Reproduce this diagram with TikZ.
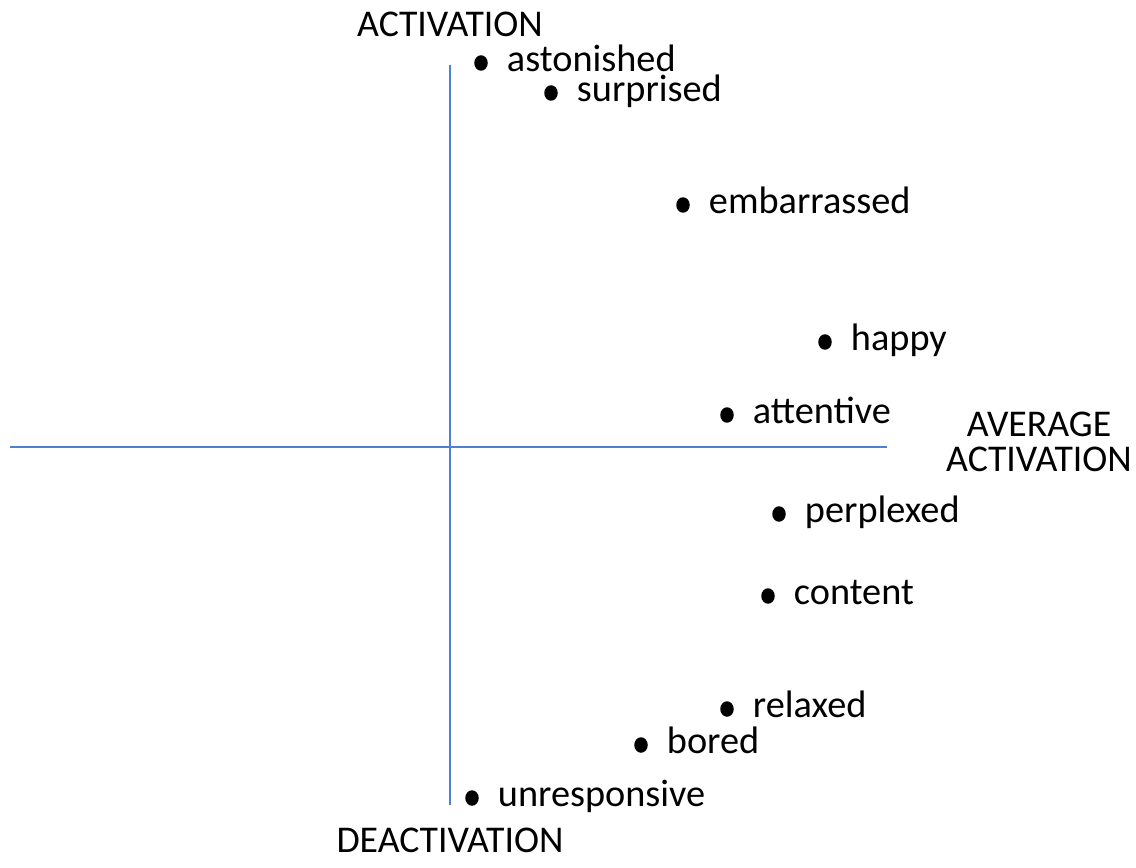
\documentclass[tikz,border=0pt]{standalone}
\usepackage{fontspec}
\setmainfont{Carlito}
\usepackage{xcolor}
\usepackage{tikz}
\usetikzlibrary{shapes,positioning}
\definecolor{axisblue}{RGB}{79,129,210}
\tikzstyle{dot} = [ellipse, fill=black, minimum width=0.27cm, minimum height=0.31cm, inner sep=0pt]
\tikzstyle{word} = [inner sep=0pt, text height=0.34cm, text depth=0pt, font=\fontsize{21.8pt}{24pt}\selectfont]
\tikzstyle{pole} = [inner sep=0pt, align=center, font=\fontsize{21.5pt}{20pt}\selectfont]
\tikzstyle{axisline} = [draw, axisblue, line width=1.1pt]

\begin{document}
\begin{tikzpicture}[x=0.02cm, y=-0.02cm]
    \useasboundingbox (0,0) rectangle (1136,868);
    % axes
    \coordinate (top) at (450,65);
    \coordinate (bottom) at (450,805);
    \coordinate (left) at (10,447);
    \coordinate (right) at (887,447);
    \path [axisline] (top) -- (bottom);
    \path [axisline] (left) -- (right);

    \node [pole, anchor=base] (act) at (450,37) {ACTIVATION};
    \node [pole, anchor=base] (deact) at (450,852) {DEACTIVATION};
    \node [pole] (avg) at (1039,442) {AVERAGE\\ACTIVATION};

    % emotions
    \node [dot] (dAst) at (481,63) {};
    \node [word, right=0.37cm of dAst] (astonished) {astonished};
    \node [dot] (dSur) at (551,93) {};
    \node [word, right=0.37cm of dSur] (surprised) {surprised};
    \node [dot] (dEmb) at (683,205) {};
    \node [word, right=0.37cm of dEmb] (embarrassed) {embarrassed};
    \node [dot] (dHap) at (825,342) {};
    \node [word, right=0.37cm of dHap] (happy) {happy};
    \node [dot] (dAtt) at (727,415) {};
    \node [word, right=0.37cm of dAtt] (attentive) {attentive};
    \node [dot] (dPer) at (779,514) {};
    \node [word, right=0.37cm of dPer] (perplexed) {perplexed};
    \node [dot] (dCon) at (768,596) {};
    \node [word, right=0.37cm of dCon] (content) {content};
    \node [dot] (dRel) at (727,709) {};
    \node [word, right=0.37cm of dRel] (relaxed) {relaxed};
    \node [dot] (dBor) at (641,745) {};
    \node [word, right=0.37cm of dBor] (bored) {bored};
    \node [dot] (dUnr) at (472,798) {};
    \node [word, right=0.37cm of dUnr] (unresponsive) {unresponsive};
\end{tikzpicture}
\end{document}
